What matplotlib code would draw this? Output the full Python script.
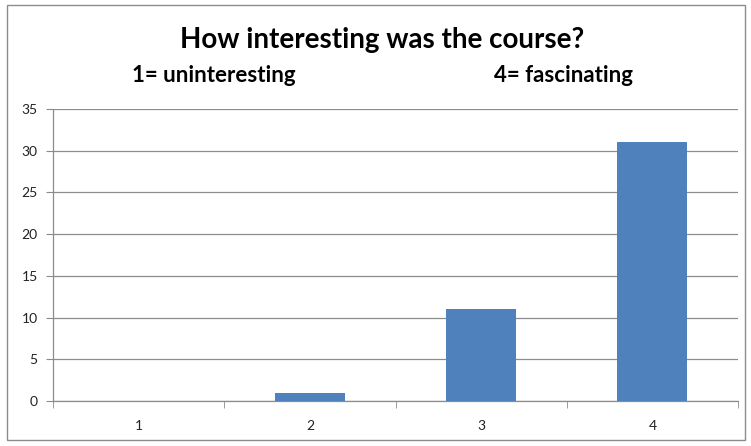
import matplotlib
matplotlib.use("Agg")
import matplotlib.pyplot as plt
from matplotlib.patches import Rectangle

categories = ["1", "2", "3", "4"]
values = [0, 1, 11, 31]
yticks = [0, 5, 10, 15, 20, 25, 30, 35]
title = "How interesting was the course?"
sub_left = "1= uninteresting"
sub_right = "4= fascinating"

plt.rcParams['font.family'] = ['Lato', 'DejaVu Sans']

W, H = 751, 446
fig = plt.figure(figsize=(W / 100, H / 100), dpi=100)
fig.patch.set_facecolor("white")

# outer chart border
fig.add_artist(Rectangle((7 / W, 1 - 440 / H), (745 - 7) / W, (440 - 5) / H,
                         transform=fig.transFigure, fill=False,
                         edgecolor="#8c8c8c", linewidth=1.0))

left, right, top, bottom = 53, 738, 109, 401
ax = fig.add_axes([left / W, 1 - bottom / H, (right - left) / W, (bottom - top) / H])

x = list(range(len(categories)))
ax.bar(x, values, width=0.41, color="#4F81BD", zorder=3)

ax.set_xlim(-0.5, len(categories) - 0.5)
ax.set_ylim(0, 35)
ax.set_yticks(yticks)
ax.set_yticklabels([str(v) for v in yticks], fontsize=10, color="#222222")
ax.set_xticks(x)
ax.set_xticklabels(categories, fontsize=10, color="#222222")
ax.tick_params(axis="x", length=0, pad=14)
ax.tick_params(axis="y", length=5, color="#8c8c8c", pad=6, direction="out")
# category boundary ticks
ax.set_xticks([i - 0.5 for i in range(len(categories) + 1)], minor=True)
ax.tick_params(axis="x", which="minor", length=5, color="#8c8c8c", direction="out")

ax.grid(axis="y", color="#8c8c8c", linewidth=0.9, zorder=0)
for s in ["top", "right"]:
    ax.spines[s].set_visible(False)
for s in ["left", "bottom"]:
    ax.spines[s].set_color("#8c8c8c")
    ax.spines[s].set_linewidth(0.9)

fig.text(382 / W, 1 - 40 / H, title, ha="center", va="center",
         fontsize=20, fontweight="bold", color="black")
fig.text(214 / W, 1 - 76 / H, sub_left, ha="center", va="center",
         fontsize=16, fontweight="bold", color="black")
fig.text(563 / W, 1 - 76 / H, sub_right, ha="center", va="center",
         fontsize=16, fontweight="bold", color="black")

fig.savefig("out.png", dpi=100, facecolor="white")
